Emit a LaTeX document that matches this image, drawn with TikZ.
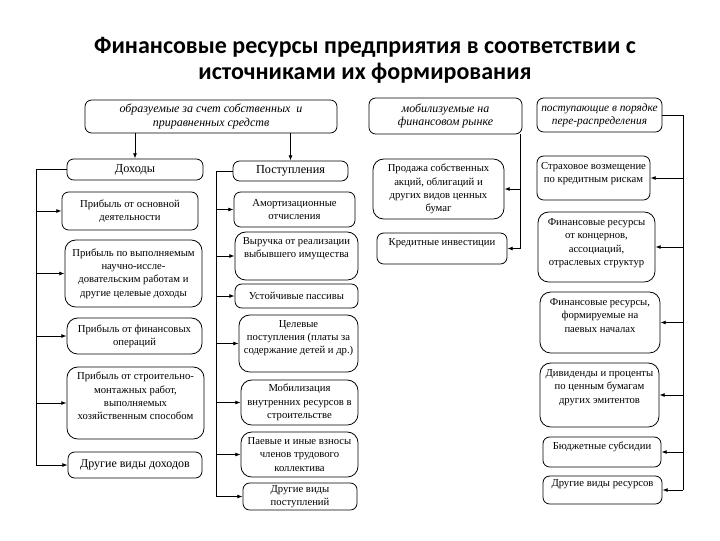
\documentclass[tikz,border=0pt]{standalone}
\usepackage{fontspec}
\setmainfont{Liberation Serif}
\newfontfamily\headfont{Carlito}
\usetikzlibrary{arrows.meta}

\tikzset{
  box/.style={draw, line width=0.6pt, rounded corners=5pt, inner sep=0pt, align=center,
    font=\fontsize{8}{10}\selectfont},
  bigbox/.style={box, rounded corners=8pt},
  srcbox/.style={box, font=\itshape\fontsize{9}{10}\selectfont},
  grpbox/.style={box, font=\fontsize{9.2}{11}\selectfont},
  sz/.style 2 args={minimum width=#1pt, minimum height=#2pt},
  lbl/.style={font=\fontsize{8}{10}\selectfont, align=center, inner sep=0pt, anchor=north},
  link/.style={line width=0.6pt},
  arr/.style={link, -{Latex[length=4pt,width=3pt]}}
}

\begin{document}
\begin{tikzpicture}[x=0.75pt,y=0.75pt,yscale=-1,xscale=1]
                  \useasboundingbox (0,0) rectangle (720,540);

                  % Title
                  \node[align=center, font=\headfont\bfseries\fontsize{18}{19.5}\selectfont] (title) at (365,60)
                    {Финансовые ресурсы предприятия в соответствии с\\источниками их формирования};

                  %Rounded Rect: sources
                  \node[srcbox, sz={189}{24.75}] (srcOwn) at (211,116.5) {образуемые за счет собственных \ и\\приравненных средств};
                  \node[srcbox, sz={114.75}{27}] (srcMarket) at (445.5,116) {мобилизуемые на\\финансовом рынке};
                  \node[srcbox, font=\itshape\fontsize{8.5}{10}\selectfont, sz={93.75}{25.5}] (srcRedist) at (599.5,115) {поступающие в порядке\\пере-распределения};

                  %Rounded Rect: incomes
                  \node[grpbox, sz={102}{15.75}] (inc) at (135,169.5) {Доходы};
                  \node[box, sz={102}{28.5}] (incMain) at (130,211) {Прибыль от основной\\деятельности};
                  \node[bigbox, sz={102.75}{50.25}] (incRnd) at (133.5,273.5) {Прибыль по выполняемым\\научно-иссле-\\довательским работам и\\другие целевые доходы};
                  \node[bigbox, sz={101.25}{27}] (incFin) at (134.5,336) {Прибыль от финансовых\\операций};
                  \node[bigbox, sz={102.75}{54},
                    label={[lbl, yshift=-4pt]north:Прибыль от строительно-\\монтажных работ,\\выполняемых\\хозяйственным способом}] (incBuild) at (135.5,403) {};
                  \node[box, font=\fontsize{9}{11}\selectfont, sz={100.5}{19.5}] (incOther) at (135,465) {Другие виды доходов};

                  %Rounded Rect: receipts
                  \node[grpbox, sz={86.25}{15}] (rec) at (290.5,171) {Поступления};
                  \node[box, sz={90.75}{26.25}] (recAmort) at (294.5,209.5) {Амортизационные\\отчисления};
                  \node[bigbox, sz={92.25}{36},
                    label={[lbl, yshift=-4pt]north:Выручка от реализации\\выбывшего имущества}] (recSale) at (296.5,256) {};
                  \node[box, sz={92.25}{18}] (recStable) at (296.5,296) {Устойчивые пассивы};
                  \node[bigbox, sz={89.25}{42.75},
                    label={[lbl, yshift=-4pt]north:Целевые\\поступления (платы за\\содержание детей и др.)}] (recTarget) at (298.5,343.5) {};
                  \node[bigbox, sz={87.75}{33.75}] (recMobil) at (299.5,402.5) {Мобилизация\\внутренних ресурсов в\\строительстве};
                  \node[bigbox, sz={87.75}{33.75}] (recShare) at (299.5,454.5) {Паевые и иные взносы\\членов трудового\\коллектива};
                  \node[box, sz={85.5}{20.25}] (recOther) at (300,496.5) {Другие виды\\поступлений};

                  %Rounded Rect: market
                  \node[bigbox, sz={98.25}{45}] (mktShares) at (438.5,189) {Продажа собственных\\акций, облигаций и\\других видов ценных\\бумаг};
                  \node[box, sz={97.5}{23.25},
                    label={[lbl, yshift=-4pt]north:Кредитные инвестиции}] (mktCredit) at (442,248.5) {};

                  %Rounded Rect: redistribution
                  \node[box, sz={84.75}{33},
                    label={[lbl, yshift=-5pt]north:Страховое возмещение\\по кредитным рискам}] (redInsur) at (593.5,178) {};
                  \node[bigbox, sz={87.75}{52.5},
                    label={[lbl, yshift=-5pt]north:Финансовые ресурсы\\от концернов,\\ассоциаций,\\отраслевых структур}] (redConc) at (596.5,247) {};
                  \node[bigbox, sz={90}{45.75},
                    label={[lbl, yshift=-5pt]north:Финансовые ресурсы,\\формируемые на\\паевых началах}] (redShare) at (600,322.5) {};
                  \node[bigbox, sz={89.25}{48},
                    label={[lbl, yshift=-5pt]north:Дивиденды и проценты\\по ценным бумагам\\других эмитентов}] (redDiv) at (599.5,395) {};
                  \node[box, sz={88.5}{22.5},
                    label={[lbl, yshift=-4pt]north:Бюджетные субсидии}] (redBudget) at (602,452) {};
                  \node[box, sz={89.25}{21},
                    label={[lbl, yshift=-2.6pt]north:Другие виды ресурсов}] (redOther) at (602.5,490) {};

                  % Bus points
                  \coordinate (incBus) at (36,465);
                  \coordinate (recBus) at (216,497);
                  \coordinate (mktBus) at (520,249);
                  \coordinate (redBus) at (683,490);

                  %Straight Lines: from sources
                  \draw[arr] (inc.north |- srcOwn.south) -- (inc.north);
                  \draw[arr] (rec.north |- srcOwn.south) -- (rec.north);

                  %Straight Lines: incomes
                  \draw[link] (inc.west) -| (incBus);
                  \foreach \n in {incMain,incRnd,incFin,incBuild,incOther}
                    \draw[arr] (incBus |- \n) -- (\n.west);

                  %Straight Lines: receipts
                  \draw[link] (rec.west) -| (recBus);
                  \foreach \n in {recAmort,recSale,recStable,recTarget,recMobil,recShare,recOther}
                    \draw[arr] (recBus |- \n) -- (\n.west);

                  %Straight Lines: market
                  \draw[link] (mktBus |- srcMarket.south) -- (mktBus);
                  \foreach \n in {mktShares,mktCredit}
                    \draw[arr] (mktBus |- \n) -- (\n.east);

                  %Straight Lines: redistribution
                  \draw[link] (srcRedist.east) -| (redBus);
                  \foreach \n in {redInsur,redConc,redShare,redDiv,redBudget,redOther}
                    \draw[arr] (redBus |- \n) -- (\n.east);

\end{tikzpicture}
\end{document}
